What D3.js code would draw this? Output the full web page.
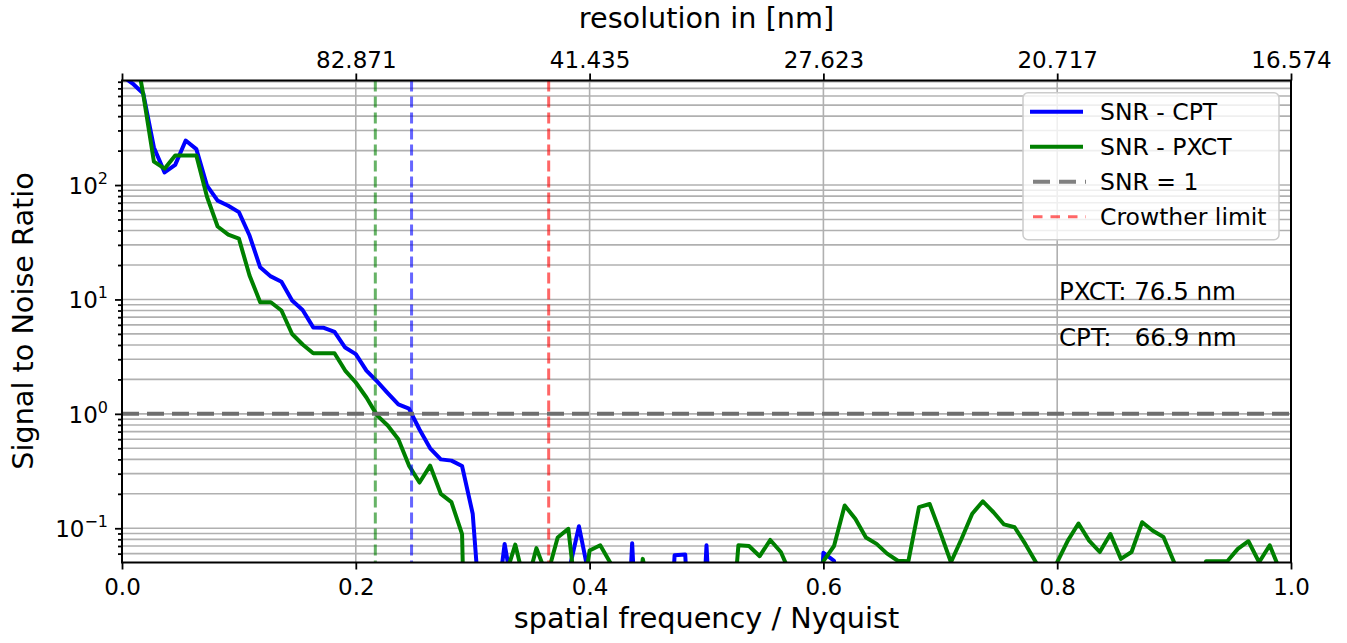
<!DOCTYPE html>
<html>
<head>
<meta charset="utf-8">
<script src="https://cdn.jsdelivr.net/npm/d3@7/dist/d3.min.js"></script>
<style>
  body { margin: 0; background: #ffffff; }
  text { font-family: "DejaVu Sans", sans-serif; fill: #000; }
</style>
</head>
<body>
<div id="snrPlot"></div>
<script>
//********************************************************************//
//
//                    DATA
//
//*******************************************************************//

// spatial frequency (fraction of Nyquist), one value per shell
var freq = [0, .0091, .0182, .0273, .0364, .0455, .0545, .0636, .0727, .0818, .0909,
            .1, .1091, .1182, .1273, .1364, .1455, .1545, .1636, .1727, .1818, .1909,
            .2, .2091, .2182, .2273, .2364, .2455, .2545, .2636, .2727, .2818, .2909,
            .3, .3091, .3182, .3273, .3364, .3455, .3545, .3636, .3727, .3818, .3909,
            .4, .4091, .4182, .4273, .4364, .4455, .4545, .4636, .4727, .4818, .4909,
            .5, .5091, .5182, .5273, .5364, .5455, .5545, .5636, .5727, .5818, .5909,
            .6, .6091, .6182, .6273, .6364, .6455, .6545, .6636, .6727, .6818, .6909,
            .7, .7091, .7182, .7273, .7364, .7455, .7545, .7636, .7727, .7818, .7909,
            .8, .8091, .8182, .8273, .8364, .8455, .8545, .8636, .8727, .8818, .8909,
            .9, .9091, .9182, .9273, .9364, .9455, .9545, .9636, .9727, .9818, .9909,
            1.0];

// SNR - CPT (blue)
var snrCPT = [900, 771, 631, 213, 129, 150, 245, 206, 99, 73, 66,
              58, 36.2, 19.1, 15.9, 14.3, 9.8, 8.1, 5.7, 5.65, 5.2, 3.8,
              3.33, 2.39, 1.92, 1.52, 1.21, 1.11, 0.73, 0.50, 0.40, 0.39, 0.35,
              0.134, 0.008, 0.013, 0.073, 0.021, 0.005, 0.005, 0.005, 0.005, 0.04, 0.104,
              0.036, 0.01, 0.01, 0.001, 0.074, 0.001, 0.005, 0.001, 0.058, 0.059, 0.001,
              0.071, 0.001, 0.005, 0.005, 0.005, 0.005, 0.005, 0.005, 0.005, 0.005, 0.001,
              0.061, 0.052, 0.001, 0.001, 0.001, 0.001, 0.001, 0.001, 0.001, 0.001, 0.001,
              0.001, 0.001, 0.001, 0.001, 0.001, 0.001, 0.001, 0.001, 0.001, 0.001, 0.001,
              0.001, 0.001, 0.001, 0.001, 0.001, 0.001, 0.001, 0.001, 0.001, 0.001, 0.001,
              0.001, 0.001, 0.001, 0.001, 0.001, 0.001, 0.001, 0.001, 0.001, 0.001, 0.001,
              0.001];

// SNR - PXCT (green)
var snrPXCT = [3000, 2000, 620, 160, 139, 181, 181, 181, 79, 43.4, 36.9,
               34, 16.2, 9.46, 9.46, 8.0, 4.99, 4.04, 3.39, 3.39, 3.39, 2.39,
               1.88, 1.39, 0.97, 0.79, 0.60, 0.353, 0.251, 0.353, 0.20, 0.169, 0.089,
               0.00001, 0.00001, 0.005, 0.036, 0.072, 0.03, 0.067, 0.038, 0.083, 0.099, 0.015,
               0.064, 0.071, 0.049, 0.02, 0.01, 0.054, 0.02, 0.01, 0.01, 0.01, 0.01,
               0.01, 0.01, 0.005, 0.071, 0.070, 0.057, 0.079, 0.062, 0.038, 0.02, 0.02,
               0.0515, 0.070, 0.158, 0.121, 0.083, 0.073, 0.060, 0.052, 0.0515, 0.153, 0.163,
               0.092, 0.0505, 0.081, 0.134, 0.172, 0.138, 0.108, 0.102, 0.073, 0.0505, 0.03,
               0.0505, 0.078, 0.110, 0.078, 0.062, 0.089, 0.054, 0.062, 0.113, 0.095, 0.084,
               0.0505, 0.03, 0.02, 0.0515, 0.0515, 0.0515, 0.066, 0.077, 0.0505, 0.071, 0.042,
               0.03];

var snrThreshold = 1;
var crowtherLimit = 0.365;
var cutPXCT = 0.2167;   // 16.574 / 76.5
var cutCPT = 0.2477;    // 16.574 / 66.9

var xTicks = [0, 0.2, 0.4, 0.6, 0.8, 1.0];
var xTickLabels = ["0.0", "0.2", "0.4", "0.6", "0.8", "1.0"];
var topTickLabels = ["", "82.871", "41.435", "27.623", "20.717", "16.574"];
var yTicks = [0.1, 1, 10, 100];
var yTickExp = ["\u22121", "0", "1", "2"];

var legendLabels = ["SNR - CPT", "SNR - PXCT", "SNR = 1", "Crowther limit"];
var notes = ["PXCT: 76.5 nm", "CPT:   66.9 nm"];

//********************************************************************//
//
//                    PLOT
//
//*******************************************************************//

var W = 1347, H = 643;
var margin = {top: 80.5, right: 56, bottom: 80.5, left: 122},
    width = W - margin.left - margin.right,
    height = H - margin.top - margin.bottom;

var svg = d3.select("#snrPlot")
  .append("svg")
    .attr("width", W)
    .attr("height", H)
  .append("g")
    .attr("transform", "translate(" + margin.left + "," + margin.top + ")");

var x = d3.scaleLinear()
  .domain([0, 1])
  .range([0, width]);

var y = d3.scaleLog()
  .domain([0.0502, 820])
  .range([height, 0]);

svg.append("clipPath")
    .attr("id", "plotClip")
  .append("rect")
    .attr("width", width)
    .attr("height", height);

// grid (major + minor on y, major on x)
svg.append("g")
  .selectAll("line")
  .data(y.ticks())
  .enter()
  .append("line")
    .attr("x1", 0)
    .attr("x2", width)
    .attr("y1", function(d) { return y(d); })
    .attr("y2", function(d) { return y(d); })
    .attr("stroke", "#b0b0b0")
    .attr("stroke-width", 1.6);

svg.append("g")
  .selectAll("line")
  .data(xTicks.slice(1, -1))
  .enter()
  .append("line")
    .attr("x1", function(d) { return x(d); })
    .attr("x2", function(d) { return x(d); })
    .attr("y1", 0)
    .attr("y2", height)
    .attr("stroke", "#b0b0b0")
    .attr("stroke-width", 1.6);

// curves
var line = d3.line()
  .x(function(d, i) { return x(freq[i]); })
  .y(function(d) { return y(d); });

var curves = svg.append("g").attr("clip-path", "url(#plotClip)");

curves.append("path")
    .datum(snrCPT)
    .attr("d", line)
    .attr("fill", "none")
    .attr("stroke", "#0000ff")
    .attr("stroke-width", 4)
    .attr("stroke-linejoin", "round");

curves.append("path")
    .datum(snrPXCT)
    .attr("d", line)
    .attr("fill", "none")
    .attr("stroke", "#008000")
    .attr("stroke-width", 4)
    .attr("stroke-linejoin", "round");

// SNR = 1
curves.append("line")
    .attr("x1", 0)
    .attr("x2", width)
    .attr("y1", y(snrThreshold))
    .attr("y2", y(snrThreshold))
    .attr("stroke", "#6e6e6e")
    .attr("stroke-width", 4)
    .attr("stroke-dasharray", "17,8");

// vertical markers
var vlines = [{f: cutPXCT, c: "rgba(0,128,0,0.6)"},
              {f: cutCPT, c: "rgba(0,0,255,0.6)"},
              {f: crowtherLimit, c: "rgba(255,0,0,0.6)"}];

curves.selectAll("vmark")
  .data(vlines)
  .enter()
  .append("line")
    .attr("x1", function(d) { return x(d.f); })
    .attr("x2", function(d) { return x(d.f); })
    .attr("y1", 0)
    .attr("y2", height)
    .attr("stroke", function(d) { return d.c; })
    .attr("stroke-width", 3)
    .attr("stroke-dasharray", "11,5");

// spines
svg.append("rect")
    .attr("width", width)
    .attr("height", height)
    .attr("fill", "none")
    .attr("stroke", "#000")
    .attr("stroke-width", 2);

// bottom axis
var xAxis = svg.append("g")
   .attr("transform", "translate(0," + height + ")")
   .call(d3.axisBottom(x).tickValues(xTicks).tickSize(7).tickSizeOuter(0).tickPadding(9)
           .tickFormat(function(d, i) { return xTickLabels[i]; }));

// top axis (resolution)
var topAxis = svg.append("g")
   .call(d3.axisTop(x).tickValues(xTicks).tickSize(7).tickSizeOuter(0).tickPadding(6)
           .tickFormat(function(d, i) { return topTickLabels[i]; }));

// left axis, major + minor ticks
var yMinor = y.ticks().filter(function(d) { return yTicks.indexOf(d) < 0; });
svg.append("g")
   .call(d3.axisLeft(y).tickValues(yMinor).tickSize(4).tickSizeOuter(0).tickFormat(""));
var yAxis = svg.append("g")
   .call(d3.axisLeft(y).tickValues(yTicks).tickSize(7).tickSizeOuter(0).tickFormat(""));

svg.selectAll(".domain").remove();
svg.selectAll(".tick line").attr("stroke", "#000").attr("stroke-width", 1.8);
xAxis.selectAll("text").style("font-size", "23px").attr("fill", "#000");
topAxis.selectAll("text").style("font-size", "23px").attr("fill", "#000");

var yLab = yAxis.selectAll(".tick")
  .data(yTicks)
  .append("text")
    .attr("x", -14)
    .attr("y", 8.5)
    .attr("text-anchor", "end")
    .style("font-size", "23px")
    .attr("fill", "#000");
yLab.append("tspan").text("10");
yLab.append("tspan")
    .attr("dy", -10)
    .style("font-size", "16px")
    .text(function(d, i) { return yTickExp[i]; });

// axis labels
svg.append("text")
    .attr("x", width / 2)
    .attr("y", height + 65)
    .attr("text-anchor", "middle")
    .style("font-size", "28.7px")
    .text("spatial frequency / Nyquist");

svg.append("text")
    .attr("x", width / 2)
    .attr("y", -53)
    .attr("text-anchor", "middle")
    .style("font-size", "28.7px")
    .text("resolution in [nm]");

svg.append("text")
    .attr("transform", "translate(" + (33 - margin.left) + "," + (321 - margin.top) + ") rotate(-90)")
    .attr("text-anchor", "middle")
    .style("font-size", "28.7px")
    .text("Signal to Noise Ratio");

// legend
var leg = svg.append("g")
    .attr("transform", "translate(" + (1023 - margin.left) + "," + (92.7 - margin.top) + ")");

leg.append("rect")
    .attr("width", 256)
    .attr("height", 147)
    .attr("rx", 5)
    .attr("fill", "rgba(255,255,255,0.8)")
    .attr("stroke", "#cccccc")
    .attr("stroke-width", 1.5);

var legStyle = [{c: "#0000ff", w: 4, dash: null},
                {c: "#008000", w: 4, dash: null},
                {c: "#808080", w: 4, dash: "17,9"},
                {c: "rgba(255,0,0,0.6)", w: 3, dash: "9.5,8"}];

var legItems = leg.selectAll("legItem")
  .data(legendLabels)
  .enter()
  .append("g")
    .attr("transform", function(d, i) { return "translate(0," + (19 + i * 35) + ")"; });

legItems.append("line")
    .attr("x1", 7)
    .attr("x2", 60)
    .attr("stroke", function(d, i) { return legStyle[i].c; })
    .attr("stroke-width", function(d, i) { return legStyle[i].w; })
    .attr("stroke-dasharray", function(d, i) { return legStyle[i].dash; })
    .attr("transform", function(d, i) { return i > 1 ? "translate(3,0)" : null; });

legItems.append("text")
    .attr("x", 77)
    .attr("y", 8.5)
    .style("font-size", "23.5px")
    .text(function(d) { return d; });

// cutoff notes
svg.selectAll("note")
  .data(notes)
  .enter()
  .append("text")
    .attr("x", 1059 - margin.left)
    .attr("y", function(d, i) { return 300 - margin.top + i * 46; })
    .style("font-size", "24.5px")
    .style("white-space", "pre")
    .text(function(d) { return d; });
</script>
</body>
</html>
